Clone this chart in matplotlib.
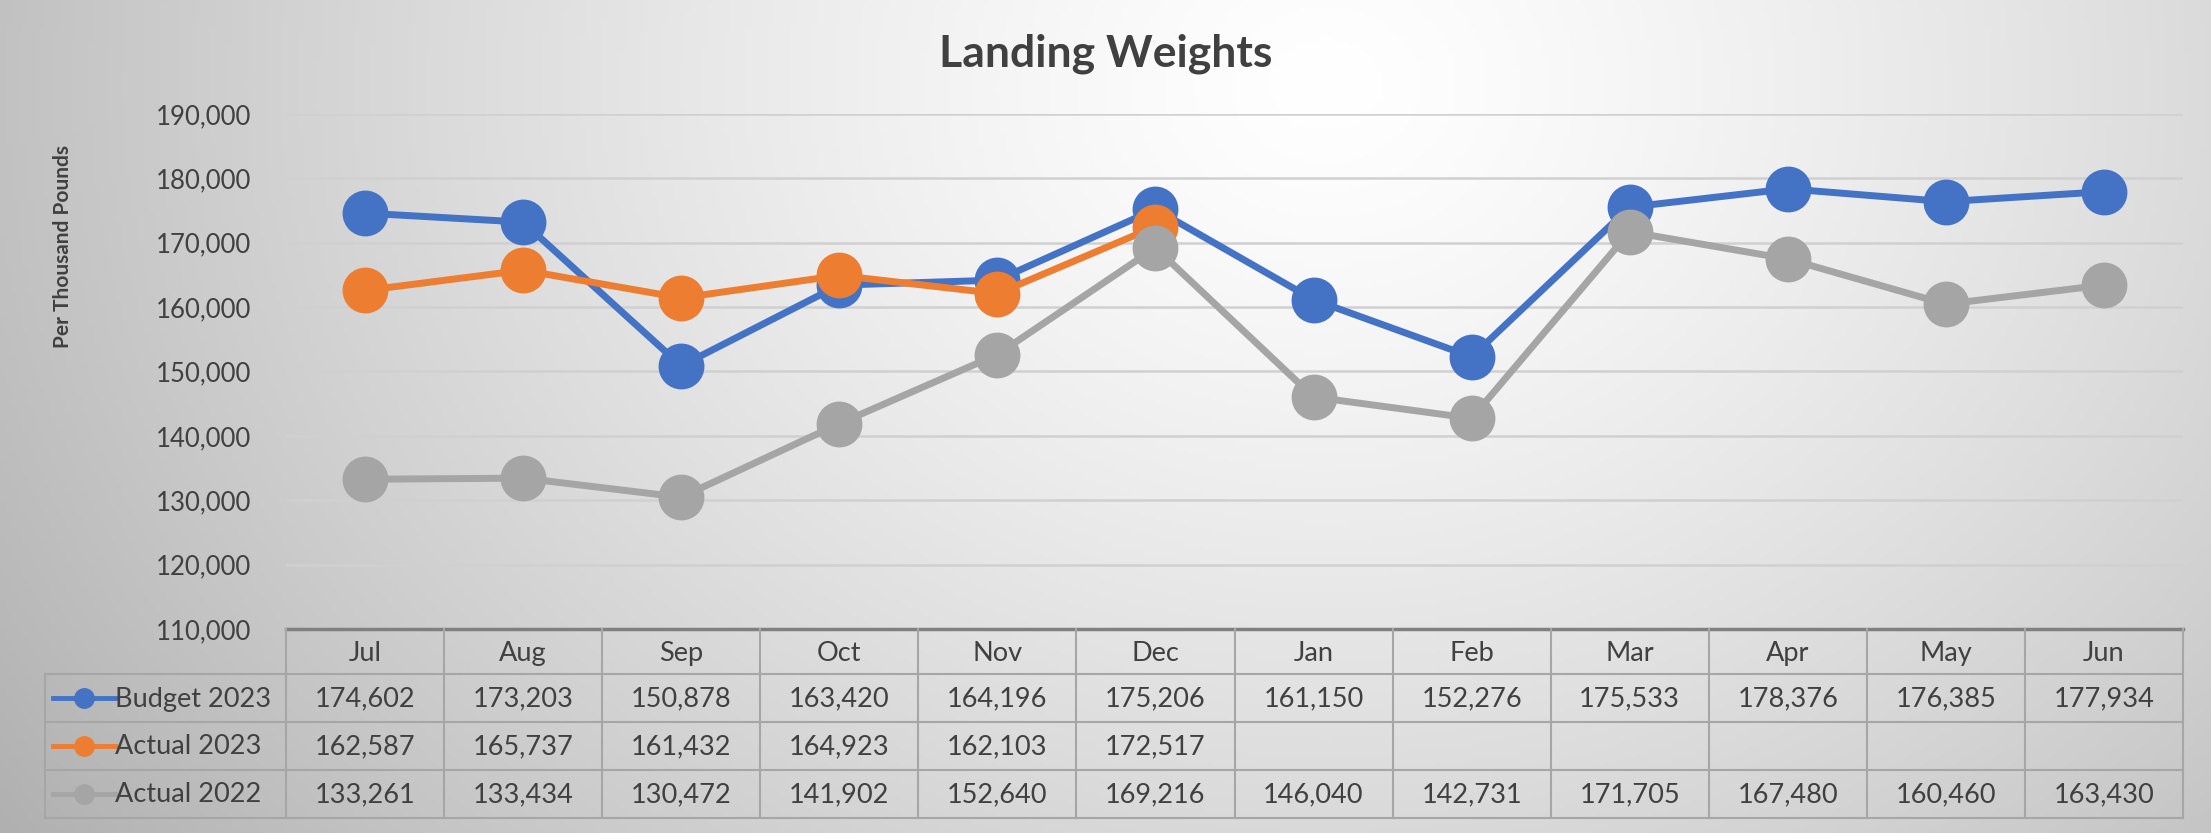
import numpy as np
import matplotlib.pyplot as plt

plt.rcParams["font.family"] = ["Lato", "DejaVu Sans"]

months = ["Jul", "Aug", "Sep", "Oct", "Nov", "Dec", "Jan", "Feb", "Mar", "Apr", "May", "Jun"]
series_names = ["Budget 2023", "Actual 2023", "Actual 2022"]
budget_2023 = [174602, 173203, 150878, 163420, 164196, 175206, 161150, 152276, 175533, 178376, 176385, 177934]
actual_2023 = [162587, 165737, 161432, 164923, 162103, 172517, None, None, None, None, None, None]
actual_2022 = [133261, 133434, 130472, 141902, 152640, 169216, 146040, 142731, 171705, 167480, 160460, 163430]
colors = ["#4472C4", "#ED7D31", "#A5A5A5"]
yticks = [110000, 120000, 130000, 140000, 150000, 160000, 170000, 180000, 190000]

W, H = 2211, 833
txt = "#404040"
fig = plt.figure(figsize=(W / 100, H / 100), dpi=100)

# background radial gradient
bg = fig.add_axes([0, 0, 1, 1], zorder=-10)
gx, gy = np.meshgrid(np.linspace(0, 1, 400), np.linspace(0, 1, 200))
d = np.sqrt(((gx - 0.6) / 0.6) ** 2 + ((gy - 0.1) / 1.3) ** 2)
shade = np.clip(1 - 0.24 * d ** 1.3, 0, 1)
bg.imshow(np.dstack([shade] * 3), aspect="auto", extent=[0, 1, 1, 0])
bg.axis("off")

# plot area (pixel layout)
pl, pr, pt, pb = 286, 2183, 114, 629
ax = fig.add_axes([pl / W, 1 - pb / H, (pr - pl) / W, (pb - pt) / H])
ax.patch.set_alpha(0)
x = np.arange(len(months))
all_series = [budget_2023, actual_2023, actual_2022]
for vals, c in zip(all_series, colors):
    y = np.array([np.nan if v is None else v for v in vals], dtype=float)
    ax.plot(x, y, color=c, lw=5, marker="o", ms=32, solid_capstyle="round")

ax.set_xlim(-0.5, len(months) - 0.5)
ax.set_ylim(110000, 190000)
ax.set_yticks(yticks)
ax.set_yticklabels([f"{v:,}" for v in yticks], fontsize=18.5, color=txt)
ax.tick_params(axis="y", length=0, pad=25)
ax.set_xticks([])
ax.grid(axis="y", color="#d0d0d0", lw=1.8)
ax.set_axisbelow(True)
for s in ax.spines.values():
    s.set_visible(False)

fig.text(1106 / W, 1 - 54 / H, "Landing Weights", ha="center", va="center",
         fontsize=32, fontweight="bold", color=txt)
fig.text(63 / W, 1 - 247 / H, "Per Thousand Pounds", ha="center", va="center",
         rotation=90, fontsize=15, fontweight="bold", color=txt)

# data table drawn in pixel coordinates
tb = fig.add_axes([0, 0, 1, 1], zorder=5)
tb.set_xlim(0, W)
tb.set_ylim(H, 0)
tb.axis("off")
tb.patch.set_alpha(0)

leg_l = 45
rows = [629, 674, 722, 770, 818]
colw = (pr - pl) / len(months)
lc = "#a6a6a6"

# horizontal lines
tb.plot([pl, pr], [rows[0], rows[0]], color="#808080", lw=2.5)
for ry in rows[1:]:
    tb.plot([leg_l, pr], [ry, ry], color=lc, lw=1.5)
# vertical lines
tb.plot([leg_l, leg_l], [rows[1], rows[-1]], color=lc, lw=1.5)
for i in range(len(months) + 1):
    xx = pl + i * colw
    tb.plot([xx, xx], [rows[0], rows[-1]], color=lc, lw=1.5)

for i, m in enumerate(months):
    tb.text(pl + (i + 0.5) * colw, (rows[0] + rows[1]) / 2 + 2, m, ha="center", va="center",
            fontsize=19.5, color=txt)

for r, (name, vals, c) in enumerate(zip(series_names, all_series, colors)):
    yc = (rows[r + 1] + rows[r + 2]) / 2
    tb.plot([53, 115], [yc, yc], color=c, lw=3.5)
    tb.plot([84], [yc], marker="o", ms=14, color=c)
    tb.text(115, yc + 1, name, ha="left", va="center", fontsize=19.5, color=txt)
    for i, v in enumerate(vals):
        if v is not None:
            tb.text(pl + (i + 0.5) * colw, yc + 1, f"{v:,}", ha="center", va="center",
                    fontsize=19.5, color=txt)

fig.savefig("out.png", dpi=100)
